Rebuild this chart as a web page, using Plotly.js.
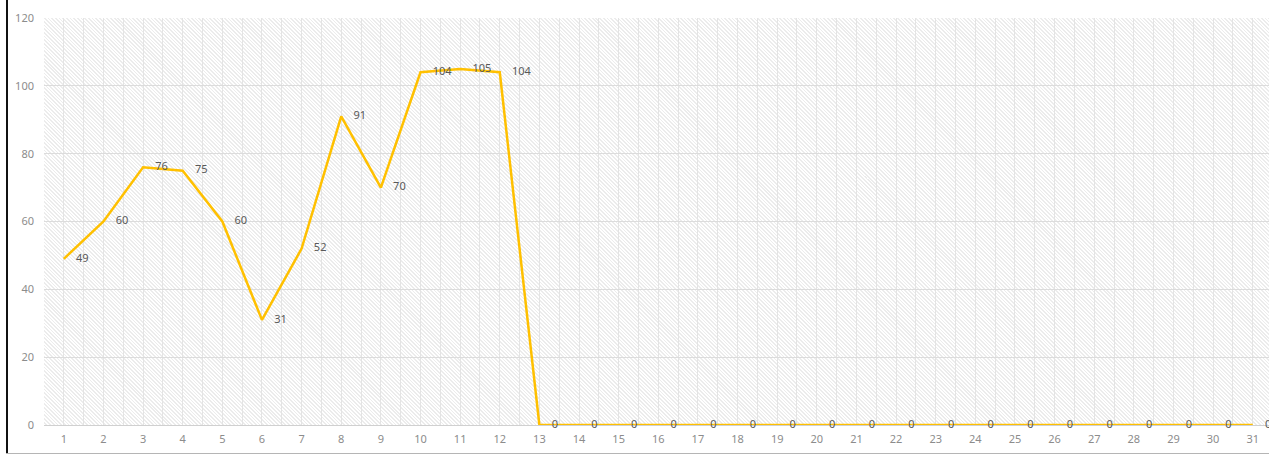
<!DOCTYPE html>
<html>
<head>
<meta charset="utf-8">
<script src="https://cdn.plot.ly/plotly-3.0.1.min.js"></script>
<style>
  html, body { margin: 0; padding: 0; background: #fff; }
  #wrap { position: relative; width: 1269px; height: 455px; overflow: hidden; }
  #bg { position: absolute;
        background: repeating-linear-gradient(45deg, #ffffff 0px, #ffffff 1.4px, #ececec 1.4px, #ececec 2.6px); }
  #chart { position: absolute; left: 0; top: 0; width: 1269px; height: 455px; }
  #lb { position: absolute; left: 6px; top: 0; width: 2px; height: 454px; background: #111; }
  #bb { position: absolute; left: 6px; top: 453px; width: 1263px; height: 1px; background: #b5b5b5; }
</style>
</head>
<body>
<div id="wrap">
  <div id="bg"></div>
  <div id="chart"></div>
  <div id="lb"></div>
  <div id="bb"></div>
</div>
<script>
const days = [1,2,3,4,5,6,7,8,9,10,11,12,13,14,15,16,17,18,19,20,21,22,23,24,25,26,27,28,29,30,31];
const values = [49,60,76,75,60,31,52,91,70,104,105,104,0,0,0,0,0,0,0,0,0,0,0,0,0,0,0,0,0,0,0];
const yTicks = [0,20,40,60,80,100,120];

const M = {l: 44, r: 0, t: 18, b: 30};
const W = 1269, H = 455;

const bg = document.getElementById('bg');
bg.style.left = M.l + 'px';
bg.style.top = M.t + 'px';
bg.style.width = (W - M.l - M.r) + 'px';
bg.style.height = (H - M.t - M.b) + 'px';

const trace = {
  x: days,
  y: values,
  type: 'scatter',
  mode: 'lines+markers+text',
  text: values.map(String),
  textposition: 'middle right',
  textfont: {family: 'Noto Sans, Open Sans, sans-serif', size: 11, color: '#595959'},
  line: {color: '#FFC000', width: 2.5},
  marker: {size: 18, color: 'rgba(0,0,0,0)', line: {width: 0}},
  cliponaxis: false,
  hoverinfo: 'x+y'
};

const layout = {
  width: W,
  height: H,
  margin: M,
  paper_bgcolor: 'rgba(0,0,0,0)',
  plot_bgcolor: 'rgba(0,0,0,0)',
  showlegend: false,
  font: {family: 'Noto Sans, Open Sans, sans-serif', size: 11, color: '#8c8c8c'},
  xaxis: {
    range: [0.5, 31.41],
    tickmode: 'array',
    tickvals: days,
    ticktext: days.map(String),
    showgrid: true,
    gridcolor: '#e4e4e4',
    gridwidth: 1,
    minor: {tick0: 0.5, dtick: 1, showgrid: true, gridcolor: '#e4e4e4', gridwidth: 1},
    zeroline: false,
    showline: false,
    ticks: '',
    ticklabelstandoff: 6,
    tickfont: {size: 11, color: '#8c8c8c'},
    fixedrange: true
  },
  yaxis: {
    range: [0, 120],
    tickmode: 'array',
    tickvals: yTicks,
    ticktext: yTicks.map(String),
    showgrid: true,
    gridcolor: '#dcdcdc',
    gridwidth: 1,
    zeroline: true,
    zerolinecolor: '#d0d0d0',
    zerolinewidth: 1,
    showline: false,
    ticks: '',
    ticklabelstandoff: 9,
    tickfont: {size: 11, color: '#8c8c8c'},
    fixedrange: true
  }
};

Plotly.newPlot('chart', [trace], layout, {displayModeBar: false, staticPlot: true});
</script>
</body>
</html>
